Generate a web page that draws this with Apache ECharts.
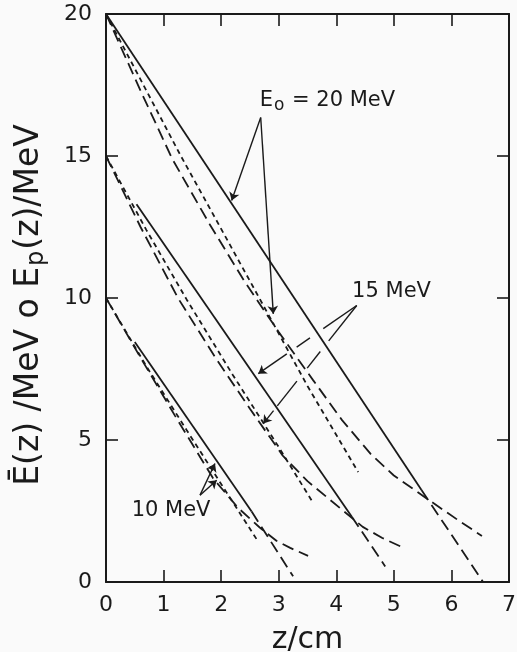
<!DOCTYPE html>
<html>
<head>
<meta charset="utf-8">
<script src="https://cdn.jsdelivr.net/npm/echarts@6/dist/echarts.min.js"></script>
<style>html,body{margin:0;padding:0;background:#fafafa;}#c{width:517px;height:652px;}</style>
</head>
<body>
<div id="c"></div>
<script>
// ---- data (z in cm, energy in MeV) ----
const xTicks = [0, 1, 2, 3, 4, 5, 6, 7];
const yTicks = [0, 5, 10, 15, 20];

// E0 = 20 MeV
const e20Solid = [[0, 20], [5.48, 3.24]];
const e20Extrap = [[5.48, 3.24], [6.55, 0]];
const e20Short = [[0, 20], [1.3, 15.0], [2.5, 10.6], [3.5, 6.9], [4.38, 3.87]];
const e20Long = [[0, 20], [0.6, 17.3], [1.15, 14.9], [1.8, 12.6], [2.4, 10.6], [3.0, 8.8], [3.6, 7.1], [4.1, 5.7], [4.6, 4.5], [5.0, 3.75], [5.6, 2.9], [6.1, 2.2], [6.53, 1.62]];

// E0 = 15 MeV
const e15Solid = [[0.53, 13.3], [4.27, 2.3]];
const e15Extrap = [[4.27, 2.3], [4.85, 0.55]];
const e15Short = [[0, 15], [0.7, 12.4], [1.4, 9.95], [2.2, 7.3], [3.0, 4.75], [3.6, 2.78]];
const e15Long = [[0, 15], [0.6, 12.5], [1.25, 10.0], [1.9, 7.9], [2.5, 6.1], [3.07, 4.45], [3.5, 3.55], [3.9, 2.88], [4.46, 1.94], [4.8, 1.55], [5.14, 1.23]];

// E0 = 10 MeV
const e10Solid = [[0.5, 8.45], [2.53, 2.48]];
const e10Extrap = [[2.53, 2.48], [3.25, 0.2]];
const e10Short = [[0, 10], [0.7, 7.6], [1.4, 5.35], [2.0, 3.45], [2.65, 1.4]];
const e10Long = [[0, 10], [0.6, 7.9], [1.2, 5.85], [1.86, 3.65], [2.3, 2.6], [2.67, 1.92], [2.96, 1.45], [3.2, 1.2], [3.51, 0.92]];

// annotation labels and pointer arrows (apex -> tip, visible fractions)
const labels20 = 'E{sub|o} = 20 MeV';
const labels15 = '15 MeV';
const labels10 = '10 MeV';
const arrows = [
  {from: [2.687, 16.355], to: [2.183, 13.43], parts: [[0, 1]]},
  {from: [2.687, 16.355], to: [2.906, 9.44], parts: [[0, 1]]},
  {from: [4.355, 9.736], to: [2.645, 7.336], parts: [[0, 0.34], [0.475, 0.61], [0.71, 1]]},
  {from: [4.355, 9.736], to: [2.732, 5.578], parts: [[0, 0.30], [0.39, 0.53], [0.64, 0.85], [0.89, 1]]},
  {from: [1.633, 3.058], to: [1.893, 4.172], parts: [[0, 1]]},
  {from: [1.633, 3.058], to: [1.923, 3.585], parts: [[0, 1]]}
];

const INK = '#1a1a1a';
const FONT = 'DejaVu Sans';
const SOLID = 'solid', SHORT = [5, 4], LONG = [12, 6];

function lerp(a, b, t) { return [a[0] + (b[0] - a[0]) * t, a[1] + (b[1] - a[1]) * t]; }
const plainSegs = [], tipSegs = [];
arrows.forEach(a => {
  a.parts.forEach(p => {
    const seg = {coords: [lerp(a.from, a.to, p[0]), lerp(a.from, a.to, p[1])]};
    if (p[1] === 1) tipSegs.push(seg); else plainSegs.push(seg);
  });
});

function curve(data, type, w) {
  return {type: 'line', data: data, showSymbol: false, symbol: 'none', silent: true,
    lineStyle: {color: INK, width: w || 1.8, type: type}, z: 3};
}
function textMark(pos, text) {
  return {type: 'scatter', symbolSize: 0, silent: true, data: [pos],
    itemStyle: {opacity: 1},
    label: {show: true, position: 'right', distance: 0, formatter: text, color: INK,
      fontFamily: FONT, fontSize: 21,
      rich: {sub: {fontSize: 17, fontFamily: FONT, color: INK, padding: [10, 1, 0, 1]}}}};
}

const axisCommon = {
  type: 'value', splitLine: {show: false},
  axisLine: {show: true, onZero: false, lineStyle: {color: INK, width: 2}},
  axisTick: {show: true, inside: true, length: 12, lineStyle: {color: INK, width: 1.6}}
};

const chart = echarts.init(document.getElementById('c'), null, {renderer: 'canvas'});
chart.setOption({
  backgroundColor: '#fafafa',
  animation: false,
  grid: {left: 106, right: 8, top: 14, bottom: 70, containLabel: false, outerBoundsMode: 'none'},
  xAxis: [
    Object.assign({}, axisCommon, {min: xTicks[0], max: xTicks[xTicks.length - 1], interval: 1, position: 'bottom',
      axisLabel: {color: INK, fontSize: 22, fontFamily: FONT, margin: 12},
      name: 'z/cm', nameLocation: 'middle', nameGap: 43,
      nameTextStyle: {color: INK, fontSize: 30, fontFamily: FONT}}),
    Object.assign({}, axisCommon, {min: xTicks[0], max: xTicks[xTicks.length - 1], interval: 1, position: 'top',
      axisLabel: {show: false}})
  ],
  yAxis: [
    Object.assign({}, axisCommon, {min: yTicks[0], max: yTicks[yTicks.length - 1], interval: 5, position: 'left',
      axisLabel: {color: INK, fontSize: 22, fontFamily: FONT, margin: 14},
      name: 'Ē(z) /MeV o E{sub|p}(z)/MeV', nameLocation: 'middle', nameGap: 57, nameRotate: 90,
      nameTextStyle: {color: INK, fontSize: 33, fontFamily: FONT, padding: [0, 14, 0, 0],
        rich: {sub: {fontSize: 24, fontFamily: FONT, color: INK, padding: [16, 1, 0, 1]}}}}),
    Object.assign({}, axisCommon, {min: yTicks[0], max: yTicks[yTicks.length - 1], interval: 5, position: 'right',
      axisLabel: {show: false}})
  ],
  series: [
    curve(e20Solid, SOLID), curve(e20Extrap, LONG), curve(e20Short, SHORT), curve(e20Long, LONG),
    curve(e15Solid, SOLID), curve(e15Extrap, LONG), curve(e15Short, SHORT), curve(e15Long, LONG),
    curve(e10Solid, SOLID), curve(e10Extrap, LONG), curve(e10Short, SHORT), curve(e10Long, LONG),
    {type: 'lines', coordinateSystem: 'cartesian2d', silent: true, symbol: ['none', 'none'],
      lineStyle: {color: INK, width: 1.4, opacity: 1}, data: plainSegs, z: 4},
    {type: 'lines', coordinateSystem: 'cartesian2d', silent: true, symbol: ['none', 'arrow'], symbolSize: 8,
      lineStyle: {color: INK, width: 1.4, opacity: 1}, data: tipSegs, z: 4},
    textMark([2.67, 16.95], labels20),
    textMark([4.275, 10.23], labels15),
    textMark([0.446, 2.5], labels10)
  ]
});
</script>
</body>
</html>
